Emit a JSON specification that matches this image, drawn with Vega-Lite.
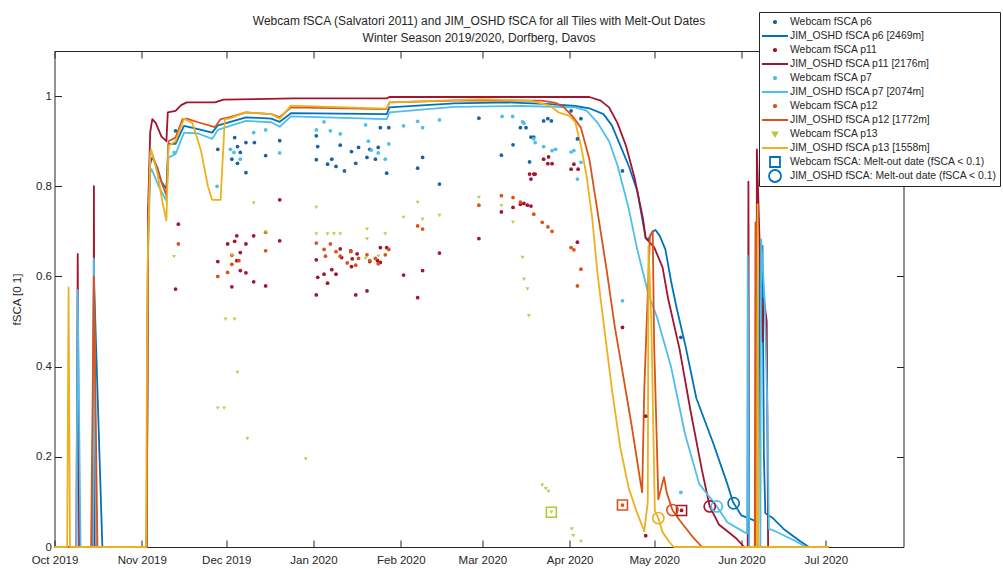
{
  "$schema": "https://vega.github.io/schema/vega-lite/v6.json",
  "width": 849,
  "height": 496,
  "autosize": {"type": "none"},
  "padding": {"left": 54.5, "top": 51, "right": 99.5, "bottom": 22},
  "background": "white",
  "title": {
    "text": ["Webcam fSCA (Salvatori 2011) and JIM_OSHD fSCA for all Tiles with Melt-Out Dates", "Winter Season 2019/2020, Dorfberg, Davos"],
    "font": "Liberation Sans",
    "fontSize": 12,
    "fontWeight": "normal",
    "color": "#262626",
    "anchor": "middle",
    "offset": 9,
    "dy": 42,
    "lineHeight": 17
  },
  "config": {
    "font": "Liberation Sans",
    "view": {"stroke": "#262626", "strokeWidth": 1},
    "axis": {
      "grid": false,
      "domain": false,
      "tickColor": "#262626",
      "tickSize": -7,
      "tickWidth": 1,
      "labelColor": "#262626",
      "labelFont": "Liberation Sans",
      "labelFontSize": 11.5,
      "titleColor": "#262626",
      "titleFont": "Liberation Sans",
      "titleFontWeight": "normal",
      "titleFontSize": 11.5
    }
  },
  "datasets": {
    "jim": [
      {"s": "JIM_OSHD fSCA p6 [2469m]", "t": "2019-10-01", "v": 0},
      {"s": "JIM_OSHD fSCA p6 [2469m]", "t": "2019-10-14T12:00Z", "v": 0},
      {"s": "JIM_OSHD fSCA p6 [2469m]", "t": "2019-10-15", "v": 0.6},
      {"s": "JIM_OSHD fSCA p6 [2469m]", "t": "2019-10-18", "v": 0},
      {"s": "JIM_OSHD fSCA p6 [2469m]", "t": "2019-11-02T18:00Z", "v": 0},
      {"s": "JIM_OSHD fSCA p6 [2469m]", "t": "2019-11-03T06:00Z", "v": 0.7},
      {"s": "JIM_OSHD fSCA p6 [2469m]", "t": "2019-11-04", "v": 0.85},
      {"s": "JIM_OSHD fSCA p6 [2469m]", "t": "2019-11-04T18:00Z", "v": 0.864},
      {"s": "JIM_OSHD fSCA p6 [2469m]", "t": "2019-11-06T12:00Z", "v": 0.842},
      {"s": "JIM_OSHD fSCA p6 [2469m]", "t": "2019-11-08", "v": 0.81},
      {"s": "JIM_OSHD fSCA p6 [2469m]", "t": "2019-11-09T18:00Z", "v": 0.794},
      {"s": "JIM_OSHD fSCA p6 [2469m]", "t": "2019-11-10T12:00Z", "v": 0.894},
      {"s": "JIM_OSHD fSCA p6 [2469m]", "t": "2019-11-13", "v": 0.894},
      {"s": "JIM_OSHD fSCA p6 [2469m]", "t": "2019-11-16", "v": 0.934},
      {"s": "JIM_OSHD fSCA p6 [2469m]", "t": "2019-11-21", "v": 0.927},
      {"s": "JIM_OSHD fSCA p6 [2469m]", "t": "2019-11-26", "v": 0.919},
      {"s": "JIM_OSHD fSCA p6 [2469m]", "t": "2019-11-28", "v": 0.935},
      {"s": "JIM_OSHD fSCA p6 [2469m]", "t": "2019-12-01", "v": 0.94},
      {"s": "JIM_OSHD fSCA p6 [2469m]", "t": "2019-12-08", "v": 0.953},
      {"s": "JIM_OSHD fSCA p6 [2469m]", "t": "2019-12-17", "v": 0.95},
      {"s": "JIM_OSHD fSCA p6 [2469m]", "t": "2019-12-20", "v": 0.943},
      {"s": "JIM_OSHD fSCA p6 [2469m]", "t": "2019-12-24", "v": 0.962},
      {"s": "JIM_OSHD fSCA p6 [2469m]", "t": "2020-01-27", "v": 0.96},
      {"s": "JIM_OSHD fSCA p6 [2469m]", "t": "2020-01-28", "v": 0.975},
      {"s": "JIM_OSHD fSCA p6 [2469m]", "t": "2020-02-20", "v": 0.984},
      {"s": "JIM_OSHD fSCA p6 [2469m]", "t": "2020-03-10", "v": 0.986},
      {"s": "JIM_OSHD fSCA p6 [2469m]", "t": "2020-03-25", "v": 0.982},
      {"s": "JIM_OSHD fSCA p6 [2469m]", "t": "2020-04-03", "v": 0.978},
      {"s": "JIM_OSHD fSCA p6 [2469m]", "t": "2020-04-08", "v": 0.973},
      {"s": "JIM_OSHD fSCA p6 [2469m]", "t": "2020-04-13", "v": 0.96},
      {"s": "JIM_OSHD fSCA p6 [2469m]", "t": "2020-04-16", "v": 0.935},
      {"s": "JIM_OSHD fSCA p6 [2469m]", "t": "2020-04-19", "v": 0.89},
      {"s": "JIM_OSHD fSCA p6 [2469m]", "t": "2020-04-22", "v": 0.845},
      {"s": "JIM_OSHD fSCA p6 [2469m]", "t": "2020-04-25", "v": 0.79},
      {"s": "JIM_OSHD fSCA p6 [2469m]", "t": "2020-04-27", "v": 0.72},
      {"s": "JIM_OSHD fSCA p6 [2469m]", "t": "2020-04-28", "v": 0.685},
      {"s": "JIM_OSHD fSCA p6 [2469m]", "t": "2020-04-29", "v": 0.683},
      {"s": "JIM_OSHD fSCA p6 [2469m]", "t": "2020-04-30T12:00Z", "v": 0.7},
      {"s": "JIM_OSHD fSCA p6 [2469m]", "t": "2020-05-01T12:00Z", "v": 0.703},
      {"s": "JIM_OSHD fSCA p6 [2469m]", "t": "2020-05-03", "v": 0.69},
      {"s": "JIM_OSHD fSCA p6 [2469m]", "t": "2020-05-05", "v": 0.66},
      {"s": "JIM_OSHD fSCA p6 [2469m]", "t": "2020-05-07", "v": 0.59},
      {"s": "JIM_OSHD fSCA p6 [2469m]", "t": "2020-05-09", "v": 0.53},
      {"s": "JIM_OSHD fSCA p6 [2469m]", "t": "2020-05-12", "v": 0.45},
      {"s": "JIM_OSHD fSCA p6 [2469m]", "t": "2020-05-16", "v": 0.33},
      {"s": "JIM_OSHD fSCA p6 [2469m]", "t": "2020-05-22", "v": 0.23},
      {"s": "JIM_OSHD fSCA p6 [2469m]", "t": "2020-05-27", "v": 0.14},
      {"s": "JIM_OSHD fSCA p6 [2469m]", "t": "2020-05-29", "v": 0.1},
      {"s": "JIM_OSHD fSCA p6 [2469m]", "t": "2020-06-01", "v": 0.07},
      {"s": "JIM_OSHD fSCA p6 [2469m]", "t": "2020-06-07", "v": 0.055},
      {"s": "JIM_OSHD fSCA p6 [2469m]", "t": "2020-06-07T12:00Z", "v": 0.68},
      {"s": "JIM_OSHD fSCA p6 [2469m]", "t": "2020-06-08", "v": 0.62},
      {"s": "JIM_OSHD fSCA p6 [2469m]", "t": "2020-06-08T12:00Z", "v": 0.668},
      {"s": "JIM_OSHD fSCA p6 [2469m]", "t": "2020-06-09", "v": 0.2},
      {"s": "JIM_OSHD fSCA p6 [2469m]", "t": "2020-06-09T12:00Z", "v": 0.075},
      {"s": "JIM_OSHD fSCA p6 [2469m]", "t": "2020-06-12", "v": 0.065},
      {"s": "JIM_OSHD fSCA p6 [2469m]", "t": "2020-06-16", "v": 0.04},
      {"s": "JIM_OSHD fSCA p6 [2469m]", "t": "2020-06-22", "v": 0.012},
      {"s": "JIM_OSHD fSCA p6 [2469m]", "t": "2020-06-25", "v": 0},
      {"s": "JIM_OSHD fSCA p6 [2469m]", "t": "2020-07-02", "v": 0},

      {"s": "JIM_OSHD fSCA p11 [2176m]", "t": "2019-10-01", "v": 0},
      {"s": "JIM_OSHD fSCA p11 [2176m]", "t": "2019-10-08T18:00Z", "v": 0},
      {"s": "JIM_OSHD fSCA p11 [2176m]", "t": "2019-10-09T06:00Z", "v": 0.65},
      {"s": "JIM_OSHD fSCA p11 [2176m]", "t": "2019-10-09T18:00Z", "v": 0},
      {"s": "JIM_OSHD fSCA p11 [2176m]", "t": "2019-10-14T18:00Z", "v": 0},
      {"s": "JIM_OSHD fSCA p11 [2176m]", "t": "2019-10-15", "v": 0.8},
      {"s": "JIM_OSHD fSCA p11 [2176m]", "t": "2019-10-15T06:00Z", "v": 0},
      {"s": "JIM_OSHD fSCA p11 [2176m]", "t": "2019-11-02T18:00Z", "v": 0},
      {"s": "JIM_OSHD fSCA p11 [2176m]", "t": "2019-11-03T06:00Z", "v": 0.75},
      {"s": "JIM_OSHD fSCA p11 [2176m]", "t": "2019-11-04", "v": 0.92},
      {"s": "JIM_OSHD fSCA p11 [2176m]", "t": "2019-11-04T18:00Z", "v": 0.949},
      {"s": "JIM_OSHD fSCA p11 [2176m]", "t": "2019-11-06", "v": 0.94},
      {"s": "JIM_OSHD fSCA p11 [2176m]", "t": "2019-11-08", "v": 0.91},
      {"s": "JIM_OSHD fSCA p11 [2176m]", "t": "2019-11-09T18:00Z", "v": 0.9},
      {"s": "JIM_OSHD fSCA p11 [2176m]", "t": "2019-11-10T06:00Z", "v": 0.964},
      {"s": "JIM_OSHD fSCA p11 [2176m]", "t": "2019-11-13", "v": 0.967},
      {"s": "JIM_OSHD fSCA p11 [2176m]", "t": "2019-11-15", "v": 0.98},
      {"s": "JIM_OSHD fSCA p11 [2176m]", "t": "2019-11-17", "v": 0.986},
      {"s": "JIM_OSHD fSCA p11 [2176m]", "t": "2019-11-27", "v": 0.986},
      {"s": "JIM_OSHD fSCA p11 [2176m]", "t": "2019-11-30", "v": 0.992},
      {"s": "JIM_OSHD fSCA p11 [2176m]", "t": "2019-12-25", "v": 0.995},
      {"s": "JIM_OSHD fSCA p11 [2176m]", "t": "2020-01-27", "v": 0.995},
      {"s": "JIM_OSHD fSCA p11 [2176m]", "t": "2020-01-28", "v": 0.998},
      {"s": "JIM_OSHD fSCA p11 [2176m]", "t": "2020-04-08", "v": 0.998},
      {"s": "JIM_OSHD fSCA p11 [2176m]", "t": "2020-04-12", "v": 0.99},
      {"s": "JIM_OSHD fSCA p11 [2176m]", "t": "2020-04-15", "v": 0.975},
      {"s": "JIM_OSHD fSCA p11 [2176m]", "t": "2020-04-18", "v": 0.94},
      {"s": "JIM_OSHD fSCA p11 [2176m]", "t": "2020-04-21", "v": 0.89},
      {"s": "JIM_OSHD fSCA p11 [2176m]", "t": "2020-04-24", "v": 0.82},
      {"s": "JIM_OSHD fSCA p11 [2176m]", "t": "2020-04-27", "v": 0.73},
      {"s": "JIM_OSHD fSCA p11 [2176m]", "t": "2020-04-28", "v": 0.685},
      {"s": "JIM_OSHD fSCA p11 [2176m]", "t": "2020-05-01", "v": 0.665},
      {"s": "JIM_OSHD fSCA p11 [2176m]", "t": "2020-05-04", "v": 0.62},
      {"s": "JIM_OSHD fSCA p11 [2176m]", "t": "2020-05-06", "v": 0.55},
      {"s": "JIM_OSHD fSCA p11 [2176m]", "t": "2020-05-10", "v": 0.44},
      {"s": "JIM_OSHD fSCA p11 [2176m]", "t": "2020-05-14", "v": 0.3},
      {"s": "JIM_OSHD fSCA p11 [2176m]", "t": "2020-05-18", "v": 0.17},
      {"s": "JIM_OSHD fSCA p11 [2176m]", "t": "2020-05-20T18:00Z", "v": 0.09},
      {"s": "JIM_OSHD fSCA p11 [2176m]", "t": "2020-05-24", "v": 0.05},
      {"s": "JIM_OSHD fSCA p11 [2176m]", "t": "2020-05-30", "v": 0.02},
      {"s": "JIM_OSHD fSCA p11 [2176m]", "t": "2020-06-02", "v": 0},
      {"s": "JIM_OSHD fSCA p11 [2176m]", "t": "2020-06-03T06:00Z", "v": 0},
      {"s": "JIM_OSHD fSCA p11 [2176m]", "t": "2020-06-03T12:00Z", "v": 0.81},
      {"s": "JIM_OSHD fSCA p11 [2176m]", "t": "2020-06-03T18:00Z", "v": 0},
      {"s": "JIM_OSHD fSCA p11 [2176m]", "t": "2020-06-06T06:00Z", "v": 0},
      {"s": "JIM_OSHD fSCA p11 [2176m]", "t": "2020-06-06T12:00Z", "v": 0.882},
      {"s": "JIM_OSHD fSCA p11 [2176m]", "t": "2020-06-08T12:00Z", "v": 0.455},
      {"s": "JIM_OSHD fSCA p11 [2176m]", "t": "2020-06-09", "v": 0.55},
      {"s": "JIM_OSHD fSCA p11 [2176m]", "t": "2020-06-10", "v": 0.5},
      {"s": "JIM_OSHD fSCA p11 [2176m]", "t": "2020-06-10T12:00Z", "v": 0},
      {"s": "JIM_OSHD fSCA p11 [2176m]", "t": "2020-07-02", "v": 0},

      {"s": "JIM_OSHD fSCA p7 [2074m]", "t": "2019-10-01", "v": 0},
      {"s": "JIM_OSHD fSCA p7 [2074m]", "t": "2019-10-08T18:00Z", "v": 0},
      {"s": "JIM_OSHD fSCA p7 [2074m]", "t": "2019-10-09T06:00Z", "v": 0.57},
      {"s": "JIM_OSHD fSCA p7 [2074m]", "t": "2019-10-10T06:00Z", "v": 0},
      {"s": "JIM_OSHD fSCA p7 [2074m]", "t": "2019-10-14T18:00Z", "v": 0},
      {"s": "JIM_OSHD fSCA p7 [2074m]", "t": "2019-10-15", "v": 0.64},
      {"s": "JIM_OSHD fSCA p7 [2074m]", "t": "2019-10-15T18:00Z", "v": 0},
      {"s": "JIM_OSHD fSCA p7 [2074m]", "t": "2019-11-02T18:00Z", "v": 0},
      {"s": "JIM_OSHD fSCA p7 [2074m]", "t": "2019-11-03T06:00Z", "v": 0.65},
      {"s": "JIM_OSHD fSCA p7 [2074m]", "t": "2019-11-04", "v": 0.83},
      {"s": "JIM_OSHD fSCA p7 [2074m]", "t": "2019-11-04T12:00Z", "v": 0.838},
      {"s": "JIM_OSHD fSCA p7 [2074m]", "t": "2019-11-07", "v": 0.8},
      {"s": "JIM_OSHD fSCA p7 [2074m]", "t": "2019-11-09T18:00Z", "v": 0.768},
      {"s": "JIM_OSHD fSCA p7 [2074m]", "t": "2019-11-10T12:00Z", "v": 0.864},
      {"s": "JIM_OSHD fSCA p7 [2074m]", "t": "2019-11-13", "v": 0.871},
      {"s": "JIM_OSHD fSCA p7 [2074m]", "t": "2019-11-16", "v": 0.919},
      {"s": "JIM_OSHD fSCA p7 [2074m]", "t": "2019-11-21", "v": 0.917},
      {"s": "JIM_OSHD fSCA p7 [2074m]", "t": "2019-11-26", "v": 0.905},
      {"s": "JIM_OSHD fSCA p7 [2074m]", "t": "2019-11-28", "v": 0.925},
      {"s": "JIM_OSHD fSCA p7 [2074m]", "t": "2019-12-08", "v": 0.945},
      {"s": "JIM_OSHD fSCA p7 [2074m]", "t": "2019-12-17", "v": 0.942},
      {"s": "JIM_OSHD fSCA p7 [2074m]", "t": "2019-12-20", "v": 0.932},
      {"s": "JIM_OSHD fSCA p7 [2074m]", "t": "2019-12-24", "v": 0.955},
      {"s": "JIM_OSHD fSCA p7 [2074m]", "t": "2020-01-27", "v": 0.949},
      {"s": "JIM_OSHD fSCA p7 [2074m]", "t": "2020-01-28", "v": 0.964},
      {"s": "JIM_OSHD fSCA p7 [2074m]", "t": "2020-02-20", "v": 0.976},
      {"s": "JIM_OSHD fSCA p7 [2074m]", "t": "2020-03-15", "v": 0.978},
      {"s": "JIM_OSHD fSCA p7 [2074m]", "t": "2020-04-03", "v": 0.975},
      {"s": "JIM_OSHD fSCA p7 [2074m]", "t": "2020-04-07", "v": 0.968},
      {"s": "JIM_OSHD fSCA p7 [2074m]", "t": "2020-04-11", "v": 0.94},
      {"s": "JIM_OSHD fSCA p7 [2074m]", "t": "2020-04-15", "v": 0.9},
      {"s": "JIM_OSHD fSCA p7 [2074m]", "t": "2020-04-18", "v": 0.846},
      {"s": "JIM_OSHD fSCA p7 [2074m]", "t": "2020-04-22", "v": 0.75},
      {"s": "JIM_OSHD fSCA p7 [2074m]", "t": "2020-04-25", "v": 0.66},
      {"s": "JIM_OSHD fSCA p7 [2074m]", "t": "2020-04-29", "v": 0.56},
      {"s": "JIM_OSHD fSCA p7 [2074m]", "t": "2020-05-02", "v": 0.51},
      {"s": "JIM_OSHD fSCA p7 [2074m]", "t": "2020-05-07", "v": 0.4},
      {"s": "JIM_OSHD fSCA p7 [2074m]", "t": "2020-05-12", "v": 0.25},
      {"s": "JIM_OSHD fSCA p7 [2074m]", "t": "2020-05-17", "v": 0.14},
      {"s": "JIM_OSHD fSCA p7 [2074m]", "t": "2020-05-23T06:00Z", "v": 0.09},
      {"s": "JIM_OSHD fSCA p7 [2074m]", "t": "2020-05-27", "v": 0.055},
      {"s": "JIM_OSHD fSCA p7 [2074m]", "t": "2020-06-02", "v": 0.033},
      {"s": "JIM_OSHD fSCA p7 [2074m]", "t": "2020-06-03", "v": 0.03},
      {"s": "JIM_OSHD fSCA p7 [2074m]", "t": "2020-06-03T06:00Z", "v": 0.646},
      {"s": "JIM_OSHD fSCA p7 [2074m]", "t": "2020-06-03T18:00Z", "v": 0},
      {"s": "JIM_OSHD fSCA p7 [2074m]", "t": "2020-06-07T18:00Z", "v": 0},
      {"s": "JIM_OSHD fSCA p7 [2074m]", "t": "2020-06-08", "v": 0.683},
      {"s": "JIM_OSHD fSCA p7 [2074m]", "t": "2020-06-09T06:00Z", "v": 0.55},
      {"s": "JIM_OSHD fSCA p7 [2074m]", "t": "2020-06-10T06:00Z", "v": 0.3},
      {"s": "JIM_OSHD fSCA p7 [2074m]", "t": "2020-06-10T18:00Z", "v": 0.04},
      {"s": "JIM_OSHD fSCA p7 [2074m]", "t": "2020-06-13", "v": 0.035},
      {"s": "JIM_OSHD fSCA p7 [2074m]", "t": "2020-06-20", "v": 0.014},
      {"s": "JIM_OSHD fSCA p7 [2074m]", "t": "2020-06-24", "v": 0},
      {"s": "JIM_OSHD fSCA p7 [2074m]", "t": "2020-07-02", "v": 0},

      {"s": "JIM_OSHD fSCA p12 [1772m]", "t": "2019-10-01", "v": 0},
      {"s": "JIM_OSHD fSCA p12 [1772m]", "t": "2019-10-14", "v": 0},
      {"s": "JIM_OSHD fSCA p12 [1772m]", "t": "2019-10-15", "v": 0.6},
      {"s": "JIM_OSHD fSCA p12 [1772m]", "t": "2019-10-16T06:00Z", "v": 0},
      {"s": "JIM_OSHD fSCA p12 [1772m]", "t": "2019-11-02T18:00Z", "v": 0},
      {"s": "JIM_OSHD fSCA p12 [1772m]", "t": "2019-11-03T06:00Z", "v": 0.7},
      {"s": "JIM_OSHD fSCA p12 [1772m]", "t": "2019-11-04", "v": 0.875},
      {"s": "JIM_OSHD fSCA p12 [1772m]", "t": "2019-11-04T06:00Z", "v": 0.88},
      {"s": "JIM_OSHD fSCA p12 [1772m]", "t": "2019-11-06T12:00Z", "v": 0.838},
      {"s": "JIM_OSHD fSCA p12 [1772m]", "t": "2019-11-08T12:00Z", "v": 0.8},
      {"s": "JIM_OSHD fSCA p12 [1772m]", "t": "2019-11-09T18:00Z", "v": 0.78},
      {"s": "JIM_OSHD fSCA p12 [1772m]", "t": "2019-11-10T12:00Z", "v": 0.9},
      {"s": "JIM_OSHD fSCA p12 [1772m]", "t": "2019-11-13", "v": 0.908},
      {"s": "JIM_OSHD fSCA p12 [1772m]", "t": "2019-11-15T12:00Z", "v": 0.949},
      {"s": "JIM_OSHD fSCA p12 [1772m]", "t": "2019-11-17", "v": 0.95},
      {"s": "JIM_OSHD fSCA p12 [1772m]", "t": "2019-11-21", "v": 0.942},
      {"s": "JIM_OSHD fSCA p12 [1772m]", "t": "2019-11-27", "v": 0.931},
      {"s": "JIM_OSHD fSCA p12 [1772m]", "t": "2019-11-29", "v": 0.949},
      {"s": "JIM_OSHD fSCA p12 [1772m]", "t": "2019-12-02", "v": 0.953},
      {"s": "JIM_OSHD fSCA p12 [1772m]", "t": "2019-12-08", "v": 0.964},
      {"s": "JIM_OSHD fSCA p12 [1772m]", "t": "2019-12-17", "v": 0.96},
      {"s": "JIM_OSHD fSCA p12 [1772m]", "t": "2019-12-20", "v": 0.953},
      {"s": "JIM_OSHD fSCA p12 [1772m]", "t": "2019-12-24", "v": 0.975},
      {"s": "JIM_OSHD fSCA p12 [1772m]", "t": "2020-01-27", "v": 0.971},
      {"s": "JIM_OSHD fSCA p12 [1772m]", "t": "2020-01-28", "v": 0.986},
      {"s": "JIM_OSHD fSCA p12 [1772m]", "t": "2020-02-20", "v": 0.99},
      {"s": "JIM_OSHD fSCA p12 [1772m]", "t": "2020-03-22", "v": 0.99},
      {"s": "JIM_OSHD fSCA p12 [1772m]", "t": "2020-03-27", "v": 0.985},
      {"s": "JIM_OSHD fSCA p12 [1772m]", "t": "2020-03-30", "v": 0.975},
      {"s": "JIM_OSHD fSCA p12 [1772m]", "t": "2020-04-02", "v": 0.955},
      {"s": "JIM_OSHD fSCA p12 [1772m]", "t": "2020-04-05", "v": 0.93},
      {"s": "JIM_OSHD fSCA p12 [1772m]", "t": "2020-04-08", "v": 0.86},
      {"s": "JIM_OSHD fSCA p12 [1772m]", "t": "2020-04-10", "v": 0.78},
      {"s": "JIM_OSHD fSCA p12 [1772m]", "t": "2020-04-12", "v": 0.7},
      {"s": "JIM_OSHD fSCA p12 [1772m]", "t": "2020-04-14", "v": 0.62},
      {"s": "JIM_OSHD fSCA p12 [1772m]", "t": "2020-04-17", "v": 0.49},
      {"s": "JIM_OSHD fSCA p12 [1772m]", "t": "2020-04-20", "v": 0.38},
      {"s": "JIM_OSHD fSCA p12 [1772m]", "t": "2020-04-23", "v": 0.27},
      {"s": "JIM_OSHD fSCA p12 [1772m]", "t": "2020-04-26", "v": 0.15},
      {"s": "JIM_OSHD fSCA p12 [1772m]", "t": "2020-04-26T18:00Z", "v": 0.121},
      {"s": "JIM_OSHD fSCA p12 [1772m]", "t": "2020-04-27T12:00Z", "v": 0.35},
      {"s": "JIM_OSHD fSCA p12 [1772m]", "t": "2020-04-29T12:00Z", "v": 0.69},
      {"s": "JIM_OSHD fSCA p12 [1772m]", "t": "2020-04-30T12:00Z", "v": 0.7},
      {"s": "JIM_OSHD fSCA p12 [1772m]", "t": "2020-05-01", "v": 0.45},
      {"s": "JIM_OSHD fSCA p12 [1772m]", "t": "2020-05-02T12:00Z", "v": 0.106},
      {"s": "JIM_OSHD fSCA p12 [1772m]", "t": "2020-05-04T12:00Z", "v": 0.155},
      {"s": "JIM_OSHD fSCA p12 [1772m]", "t": "2020-05-05T12:00Z", "v": 0.12},
      {"s": "JIM_OSHD fSCA p12 [1772m]", "t": "2020-05-07T12:00Z", "v": 0.082},
      {"s": "JIM_OSHD fSCA p12 [1772m]", "t": "2020-05-10", "v": 0.06},
      {"s": "JIM_OSHD fSCA p12 [1772m]", "t": "2020-05-15", "v": 0.02},
      {"s": "JIM_OSHD fSCA p12 [1772m]", "t": "2020-05-18", "v": 0},
      {"s": "JIM_OSHD fSCA p12 [1772m]", "t": "2020-06-05T18:00Z", "v": 0},
      {"s": "JIM_OSHD fSCA p12 [1772m]", "t": "2020-06-06", "v": 0.72},
      {"s": "JIM_OSHD fSCA p12 [1772m]", "t": "2020-06-06T06:00Z", "v": 0},
      {"s": "JIM_OSHD fSCA p12 [1772m]", "t": "2020-07-02", "v": 0},

      {"s": "JIM_OSHD fSCA p13 [1558m]", "t": "2019-10-01", "v": 0},
      {"s": "JIM_OSHD fSCA p13 [1558m]", "t": "2019-10-05T12:00Z", "v": 0},
      {"s": "JIM_OSHD fSCA p13 [1558m]", "t": "2019-10-06", "v": 0.576},
      {"s": "JIM_OSHD fSCA p13 [1558m]", "t": "2019-10-06T12:00Z", "v": 0},
      {"s": "JIM_OSHD fSCA p13 [1558m]", "t": "2019-11-02T12:00Z", "v": 0},
      {"s": "JIM_OSHD fSCA p13 [1558m]", "t": "2019-11-03", "v": 0.6},
      {"s": "JIM_OSHD fSCA p13 [1558m]", "t": "2019-11-04", "v": 0.87},
      {"s": "JIM_OSHD fSCA p13 [1558m]", "t": "2019-11-04T06:00Z", "v": 0.882},
      {"s": "JIM_OSHD fSCA p13 [1558m]", "t": "2019-11-06T12:00Z", "v": 0.83},
      {"s": "JIM_OSHD fSCA p13 [1558m]", "t": "2019-11-08T12:00Z", "v": 0.76},
      {"s": "JIM_OSHD fSCA p13 [1558m]", "t": "2019-11-09T18:00Z", "v": 0.724},
      {"s": "JIM_OSHD fSCA p13 [1558m]", "t": "2019-11-10T12:00Z", "v": 0.89},
      {"s": "JIM_OSHD fSCA p13 [1558m]", "t": "2019-11-13", "v": 0.9},
      {"s": "JIM_OSHD fSCA p13 [1558m]", "t": "2019-11-16", "v": 0.95},
      {"s": "JIM_OSHD fSCA p13 [1558m]", "t": "2019-11-19", "v": 0.94},
      {"s": "JIM_OSHD fSCA p13 [1558m]", "t": "2019-11-22", "v": 0.88},
      {"s": "JIM_OSHD fSCA p13 [1558m]", "t": "2019-11-24T12:00Z", "v": 0.8},
      {"s": "JIM_OSHD fSCA p13 [1558m]", "t": "2019-11-26", "v": 0.77},
      {"s": "JIM_OSHD fSCA p13 [1558m]", "t": "2019-11-29", "v": 0.77},
      {"s": "JIM_OSHD fSCA p13 [1558m]", "t": "2019-11-30T12:00Z", "v": 0.949},
      {"s": "JIM_OSHD fSCA p13 [1558m]", "t": "2019-12-02", "v": 0.95},
      {"s": "JIM_OSHD fSCA p13 [1558m]", "t": "2019-12-08", "v": 0.964},
      {"s": "JIM_OSHD fSCA p13 [1558m]", "t": "2019-12-17", "v": 0.96},
      {"s": "JIM_OSHD fSCA p13 [1558m]", "t": "2019-12-20", "v": 0.95},
      {"s": "JIM_OSHD fSCA p13 [1558m]", "t": "2019-12-24", "v": 0.979},
      {"s": "JIM_OSHD fSCA p13 [1558m]", "t": "2020-01-27", "v": 0.972},
      {"s": "JIM_OSHD fSCA p13 [1558m]", "t": "2020-01-28", "v": 0.986},
      {"s": "JIM_OSHD fSCA p13 [1558m]", "t": "2020-03-01", "v": 0.993},
      {"s": "JIM_OSHD fSCA p13 [1558m]", "t": "2020-03-18", "v": 0.99},
      {"s": "JIM_OSHD fSCA p13 [1558m]", "t": "2020-03-25", "v": 0.979},
      {"s": "JIM_OSHD fSCA p13 [1558m]", "t": "2020-03-28", "v": 0.964},
      {"s": "JIM_OSHD fSCA p13 [1558m]", "t": "2020-04-01", "v": 0.956},
      {"s": "JIM_OSHD fSCA p13 [1558m]", "t": "2020-04-03", "v": 0.942},
      {"s": "JIM_OSHD fSCA p13 [1558m]", "t": "2020-04-05", "v": 0.89},
      {"s": "JIM_OSHD fSCA p13 [1558m]", "t": "2020-04-07", "v": 0.823},
      {"s": "JIM_OSHD fSCA p13 [1558m]", "t": "2020-04-09", "v": 0.73},
      {"s": "JIM_OSHD fSCA p13 [1558m]", "t": "2020-04-11", "v": 0.6},
      {"s": "JIM_OSHD fSCA p13 [1558m]", "t": "2020-04-13", "v": 0.5},
      {"s": "JIM_OSHD fSCA p13 [1558m]", "t": "2020-04-16", "v": 0.35},
      {"s": "JIM_OSHD fSCA p13 [1558m]", "t": "2020-04-19", "v": 0.22},
      {"s": "JIM_OSHD fSCA p13 [1558m]", "t": "2020-04-22", "v": 0.13},
      {"s": "JIM_OSHD fSCA p13 [1558m]", "t": "2020-04-25", "v": 0.075},
      {"s": "JIM_OSHD fSCA p13 [1558m]", "t": "2020-04-27T12:00Z", "v": 0.035},
      {"s": "JIM_OSHD fSCA p13 [1558m]", "t": "2020-04-28T18:00Z", "v": 0.1},
      {"s": "JIM_OSHD fSCA p13 [1558m]", "t": "2020-04-29", "v": 0.668},
      {"s": "JIM_OSHD fSCA p13 [1558m]", "t": "2020-04-30", "v": 0.5},
      {"s": "JIM_OSHD fSCA p13 [1558m]", "t": "2020-05-01T06:00Z", "v": 0.08},
      {"s": "JIM_OSHD fSCA p13 [1558m]", "t": "2020-05-02T12:00Z", "v": 0.064},
      {"s": "JIM_OSHD fSCA p13 [1558m]", "t": "2020-05-04", "v": 0.033},
      {"s": "JIM_OSHD fSCA p13 [1558m]", "t": "2020-05-06T12:00Z", "v": 0.01},
      {"s": "JIM_OSHD fSCA p13 [1558m]", "t": "2020-05-08", "v": 0},
      {"s": "JIM_OSHD fSCA p13 [1558m]", "t": "2020-06-06T12:00Z", "v": 0},
      {"s": "JIM_OSHD fSCA p13 [1558m]", "t": "2020-06-06T18:00Z", "v": 0.76},
      {"s": "JIM_OSHD fSCA p13 [1558m]", "t": "2020-06-07", "v": 0},
      {"s": "JIM_OSHD fSCA p13 [1558m]", "t": "2020-07-02", "v": 0}
    ],
    "cam": [
      {"s": "Webcam fSCA p6", "t": "2019-11-13", "v": 0.923},
      {"s": "Webcam fSCA p6", "t": "2019-11-28", "v": 0.882},
      {"s": "Webcam fSCA p6", "t": "2019-12-03", "v": 0.86},
      {"s": "Webcam fSCA p6", "t": "2019-12-04", "v": 0.908},
      {"s": "Webcam fSCA p6", "t": "2019-12-05", "v": 0.888},
      {"s": "Webcam fSCA p6", "t": "2019-12-05", "v": 0.851},
      {"s": "Webcam fSCA p6", "t": "2019-12-06", "v": 0.875},
      {"s": "Webcam fSCA p6", "t": "2019-12-08", "v": 0.897},
      {"s": "Webcam fSCA p6", "t": "2019-12-08", "v": 0.83},
      {"s": "Webcam fSCA p6", "t": "2019-12-11", "v": 0.897},
      {"s": "Webcam fSCA p6", "t": "2019-12-15", "v": 0.868},
      {"s": "Webcam fSCA p6", "t": "2019-12-20", "v": 0.901},
      {"s": "Webcam fSCA p6", "t": "2020-01-02", "v": 0.912},
      {"s": "Webcam fSCA p6", "t": "2020-01-02T12:00Z", "v": 0.888},
      {"s": "Webcam fSCA p6", "t": "2020-01-02", "v": 0.859},
      {"s": "Webcam fSCA p6", "t": "2020-01-06", "v": 0.849},
      {"s": "Webcam fSCA p6", "t": "2020-01-07T12:00Z", "v": 0.86},
      {"s": "Webcam fSCA p6", "t": "2020-01-09", "v": 0.844},
      {"s": "Webcam fSCA p6", "t": "2020-01-10T12:00Z", "v": 0.891},
      {"s": "Webcam fSCA p6", "t": "2020-01-12", "v": 0.834},
      {"s": "Webcam fSCA p6", "t": "2020-01-14T12:00Z", "v": 0.877},
      {"s": "Webcam fSCA p6", "t": "2020-01-16", "v": 0.851},
      {"s": "Webcam fSCA p6", "t": "2020-01-17", "v": 0.886},
      {"s": "Webcam fSCA p6", "t": "2020-01-20", "v": 0.864},
      {"s": "Webcam fSCA p6", "t": "2020-01-21", "v": 0.882},
      {"s": "Webcam fSCA p6", "t": "2020-01-23", "v": 0.86},
      {"s": "Webcam fSCA p6", "t": "2020-01-24", "v": 0.886},
      {"s": "Webcam fSCA p6", "t": "2020-01-24T18:00Z", "v": 0.93},
      {"s": "Webcam fSCA p6", "t": "2020-01-27", "v": 0.829},
      {"s": "Webcam fSCA p6", "t": "2020-01-27T18:00Z", "v": 0.93},
      {"s": "Webcam fSCA p6", "t": "2020-02-07", "v": 0.84},
      {"s": "Webcam fSCA p6", "t": "2020-02-08T18:00Z", "v": 0.864},
      {"s": "Webcam fSCA p6", "t": "2020-02-14T18:00Z", "v": 0.805},
      {"s": "Webcam fSCA p6", "t": "2020-02-28T18:00Z", "v": 0.951},
      {"s": "Webcam fSCA p6", "t": "2020-03-07T18:00Z", "v": 0.869},
      {"s": "Webcam fSCA p6", "t": "2020-03-11T21:00Z", "v": 0.892},
      {"s": "Webcam fSCA p6", "t": "2020-03-14T12:00Z", "v": 0.93},
      {"s": "Webcam fSCA p6", "t": "2020-03-16T12:00Z", "v": 0.93},
      {"s": "Webcam fSCA p6", "t": "2020-03-17T18:00Z", "v": 0.854},
      {"s": "Webcam fSCA p6", "t": "2020-03-18T06:00Z", "v": 0.909},
      {"s": "Webcam fSCA p6", "t": "2020-03-19T06:00Z", "v": 0.909},
      {"s": "Webcam fSCA p6", "t": "2020-03-22T18:00Z", "v": 0.945},
      {"s": "Webcam fSCA p6", "t": "2020-03-24T06:00Z", "v": 0.95},
      {"s": "Webcam fSCA p6", "t": "2020-03-25T12:00Z", "v": 0.945},
      {"s": "Webcam fSCA p6", "t": "2020-04-01T12:00Z", "v": 0.967},
      {"s": "Webcam fSCA p6", "t": "2020-04-03T18:00Z", "v": 0.905},
      {"s": "Webcam fSCA p6", "t": "2020-04-05", "v": 0.95},
      {"s": "Webcam fSCA p6", "t": "2020-04-19T18:00Z", "v": 0.834},
      {"s": "Webcam fSCA p6", "t": "2020-05-10T12:00Z", "v": 0.465},

      {"s": "Webcam fSCA p11", "t": "2019-11-13", "v": 0.572},
      {"s": "Webcam fSCA p11", "t": "2019-11-14", "v": 0.716},
      {"s": "Webcam fSCA p11", "t": "2019-11-28", "v": 0.633},
      {"s": "Webcam fSCA p11", "t": "2019-12-01T12:00Z", "v": 0.672},
      {"s": "Webcam fSCA p11", "t": "2019-12-03", "v": 0.577},
      {"s": "Webcam fSCA p11", "t": "2019-12-04", "v": 0.678},
      {"s": "Webcam fSCA p11", "t": "2019-12-04T18:00Z", "v": 0.69},
      {"s": "Webcam fSCA p11", "t": "2019-12-04T18:00Z", "v": 0.635},
      {"s": "Webcam fSCA p11", "t": "2019-12-06", "v": 0.653},
      {"s": "Webcam fSCA p11", "t": "2019-12-06", "v": 0.613},
      {"s": "Webcam fSCA p11", "t": "2019-12-08", "v": 0.672},
      {"s": "Webcam fSCA p11", "t": "2019-12-08", "v": 0.608},
      {"s": "Webcam fSCA p11", "t": "2019-12-10T18:00Z", "v": 0.69},
      {"s": "Webcam fSCA p11", "t": "2019-12-10T18:00Z", "v": 0.588},
      {"s": "Webcam fSCA p11", "t": "2019-12-15", "v": 0.579},
      {"s": "Webcam fSCA p11", "t": "2019-12-20", "v": 0.77},
      {"s": "Webcam fSCA p11", "t": "2019-12-20", "v": 0.679},
      {"s": "Webcam fSCA p11", "t": "2020-01-02", "v": 0.637},
      {"s": "Webcam fSCA p11", "t": "2020-01-02T12:00Z", "v": 0.598},
      {"s": "Webcam fSCA p11", "t": "2020-01-02", "v": 0.559},
      {"s": "Webcam fSCA p11", "t": "2020-01-04T18:00Z", "v": 0.605},
      {"s": "Webcam fSCA p11", "t": "2020-01-06", "v": 0.585},
      {"s": "Webcam fSCA p11", "t": "2020-01-07T12:00Z", "v": 0.615},
      {"s": "Webcam fSCA p11", "t": "2020-01-09", "v": 0.605},
      {"s": "Webcam fSCA p11", "t": "2020-01-10T12:00Z", "v": 0.661},
      {"s": "Webcam fSCA p11", "t": "2020-01-11", "v": 0.642},
      {"s": "Webcam fSCA p11", "t": "2020-01-14T06:00Z", "v": 0.657},
      {"s": "Webcam fSCA p11", "t": "2020-01-14T18:00Z", "v": 0.639},
      {"s": "Webcam fSCA p11", "t": "2020-01-14T12:00Z", "v": 0.622},
      {"s": "Webcam fSCA p11", "t": "2020-01-16", "v": 0.559},
      {"s": "Webcam fSCA p11", "t": "2020-01-16T12:00Z", "v": 0.65},
      {"s": "Webcam fSCA p11", "t": "2020-01-20", "v": 0.568},
      {"s": "Webcam fSCA p11", "t": "2020-01-21", "v": 0.633},
      {"s": "Webcam fSCA p11", "t": "2020-01-23T18:00Z", "v": 0.635},
      {"s": "Webcam fSCA p11", "t": "2020-01-24T18:00Z", "v": 0.631},
      {"s": "Webcam fSCA p11", "t": "2020-01-24T18:00Z", "v": 0.664},
      {"s": "Webcam fSCA p11", "t": "2020-01-27", "v": 0.664},
      {"s": "Webcam fSCA p11", "t": "2020-02-02", "v": 0.603},
      {"s": "Webcam fSCA p11", "t": "2020-02-07", "v": 0.553},
      {"s": "Webcam fSCA p11", "t": "2020-02-08T18:00Z", "v": 0.613},
      {"s": "Webcam fSCA p11", "t": "2020-02-14T18:00Z", "v": 0.652},
      {"s": "Webcam fSCA p11", "t": "2020-02-28T18:00Z", "v": 0.684},
      {"s": "Webcam fSCA p11", "t": "2020-03-07T18:00Z", "v": 0.743},
      {"s": "Webcam fSCA p11", "t": "2020-03-11T21:00Z", "v": 0.753},
      {"s": "Webcam fSCA p11", "t": "2020-03-14T12:00Z", "v": 0.76},
      {"s": "Webcam fSCA p11", "t": "2020-03-15T18:00Z", "v": 0.762},
      {"s": "Webcam fSCA p11", "t": "2020-03-17", "v": 0.758},
      {"s": "Webcam fSCA p11", "t": "2020-03-18T06:00Z", "v": 0.756},
      {"s": "Webcam fSCA p11", "t": "2020-03-17T18:00Z", "v": 0.827},
      {"s": "Webcam fSCA p11", "t": "2020-03-18T06:00Z", "v": 0.816},
      {"s": "Webcam fSCA p11", "t": "2020-03-19T06:00Z", "v": 0.827},
      {"s": "Webcam fSCA p11", "t": "2020-03-19T18:00Z", "v": 0.827},
      {"s": "Webcam fSCA p11", "t": "2020-03-22T18:00Z", "v": 0.86},
      {"s": "Webcam fSCA p11", "t": "2020-03-24T06:00Z", "v": 0.85},
      {"s": "Webcam fSCA p11", "t": "2020-03-24T12:00Z", "v": 0.865},
      {"s": "Webcam fSCA p11", "t": "2020-03-25T18:00Z", "v": 0.85},
      {"s": "Webcam fSCA p11", "t": "2020-04-01T12:00Z", "v": 0.838},
      {"s": "Webcam fSCA p11", "t": "2020-04-02T12:00Z", "v": 0.849},
      {"s": "Webcam fSCA p11", "t": "2020-04-03T18:00Z", "v": 0.676},
      {"s": "Webcam fSCA p11", "t": "2020-04-04", "v": 0.838},
      {"s": "Webcam fSCA p11", "t": "2020-04-19T18:00Z", "v": 0.487},
      {"s": "Webcam fSCA p11", "t": "2020-04-28", "v": 0.29},
      {"s": "Webcam fSCA p11", "t": "2020-04-28", "v": 0.025},
      {"s": "Webcam fSCA p11", "t": "2020-05-10T18:00Z", "v": 0.081},

      {"s": "Webcam fSCA p7", "t": "2019-11-12T12:00Z", "v": 0.875},
      {"s": "Webcam fSCA p7", "t": "2019-11-27T18:00Z", "v": 0.8},
      {"s": "Webcam fSCA p7", "t": "2019-12-02T12:00Z", "v": 0.882},
      {"s": "Webcam fSCA p7", "t": "2019-12-03T18:00Z", "v": 0.875},
      {"s": "Webcam fSCA p7", "t": "2019-12-06", "v": 0.86},
      {"s": "Webcam fSCA p7", "t": "2019-12-10T18:00Z", "v": 0.919},
      {"s": "Webcam fSCA p7", "t": "2019-12-15", "v": 0.925},
      {"s": "Webcam fSCA p7", "t": "2019-12-20", "v": 0.874},
      {"s": "Webcam fSCA p7", "t": "2020-01-02", "v": 0.925},
      {"s": "Webcam fSCA p7", "t": "2020-01-04T18:00Z", "v": 0.943},
      {"s": "Webcam fSCA p7", "t": "2020-01-07", "v": 0.923},
      {"s": "Webcam fSCA p7", "t": "2020-01-10T12:00Z", "v": 0.916},
      {"s": "Webcam fSCA p7", "t": "2020-01-19T12:00Z", "v": 0.936},
      {"s": "Webcam fSCA p7", "t": "2020-01-20T12:00Z", "v": 0.9},
      {"s": "Webcam fSCA p7", "t": "2020-01-21T12:00Z", "v": 0.88},
      {"s": "Webcam fSCA p7", "t": "2020-01-24", "v": 0.874},
      {"s": "Webcam fSCA p7", "t": "2020-01-26T12:00Z", "v": 0.86},
      {"s": "Webcam fSCA p7", "t": "2020-01-27T18:00Z", "v": 0.894},
      {"s": "Webcam fSCA p7", "t": "2020-02-02", "v": 0.934},
      {"s": "Webcam fSCA p7", "t": "2020-02-07", "v": 0.944},
      {"s": "Webcam fSCA p7", "t": "2020-02-08T18:00Z", "v": 0.93},
      {"s": "Webcam fSCA p7", "t": "2020-02-14T18:00Z", "v": 0.947},
      {"s": "Webcam fSCA p7", "t": "2020-03-08", "v": 0.955},
      {"s": "Webcam fSCA p7", "t": "2020-03-11T18:00Z", "v": 0.955},
      {"s": "Webcam fSCA p7", "t": "2020-03-15T06:00Z", "v": 0.943},
      {"s": "Webcam fSCA p7", "t": "2020-03-15T18:00Z", "v": 0.94},
      {"s": "Webcam fSCA p7", "t": "2020-03-19T06:00Z", "v": 0.905},
      {"s": "Webcam fSCA p7", "t": "2020-03-19T18:00Z", "v": 0.897},
      {"s": "Webcam fSCA p7", "t": "2020-03-22T18:00Z", "v": 0.888},
      {"s": "Webcam fSCA p7", "t": "2020-03-25T18:00Z", "v": 0.879},
      {"s": "Webcam fSCA p7", "t": "2020-03-27", "v": 0.882},
      {"s": "Webcam fSCA p7", "t": "2020-04-01T12:00Z", "v": 0.876},
      {"s": "Webcam fSCA p7", "t": "2020-04-02T12:00Z", "v": 0.879},
      {"s": "Webcam fSCA p7", "t": "2020-04-03T18:00Z", "v": 0.816},
      {"s": "Webcam fSCA p7", "t": "2020-04-05", "v": 0.853},
      {"s": "Webcam fSCA p7", "t": "2020-04-19T18:00Z", "v": 0.546},
      {"s": "Webcam fSCA p7", "t": "2020-05-10T12:00Z", "v": 0.121},

      {"s": "Webcam fSCA p12", "t": "2019-11-14", "v": 0.672},
      {"s": "Webcam fSCA p12", "t": "2019-11-28", "v": 0.6},
      {"s": "Webcam fSCA p12", "t": "2019-12-01T12:00Z", "v": 0.609},
      {"s": "Webcam fSCA p12", "t": "2019-12-03", "v": 0.647},
      {"s": "Webcam fSCA p12", "t": "2019-12-03", "v": 0.627},
      {"s": "Webcam fSCA p12", "t": "2019-12-05T12:00Z", "v": 0.635},
      {"s": "Webcam fSCA p12", "t": "2019-12-15", "v": 0.698},
      {"s": "Webcam fSCA p12", "t": "2019-12-15", "v": 0.657},
      {"s": "Webcam fSCA p12", "t": "2020-01-02", "v": 0.674},
      {"s": "Webcam fSCA p12", "t": "2020-01-04T18:00Z", "v": 0.66},
      {"s": "Webcam fSCA p12", "t": "2020-01-05T06:00Z", "v": 0.645},
      {"s": "Webcam fSCA p12", "t": "2020-01-07", "v": 0.672},
      {"s": "Webcam fSCA p12", "t": "2020-01-09", "v": 0.655},
      {"s": "Webcam fSCA p12", "t": "2020-01-10T12:00Z", "v": 0.645},
      {"s": "Webcam fSCA p12", "t": "2020-01-13", "v": 0.63},
      {"s": "Webcam fSCA p12", "t": "2020-01-14T06:00Z", "v": 0.655},
      {"s": "Webcam fSCA p12", "t": "2020-01-16", "v": 0.625},
      {"s": "Webcam fSCA p12", "t": "2020-01-17", "v": 0.64},
      {"s": "Webcam fSCA p12", "t": "2020-01-20", "v": 0.648},
      {"s": "Webcam fSCA p12", "t": "2020-01-21", "v": 0.635},
      {"s": "Webcam fSCA p12", "t": "2020-01-23", "v": 0.64},
      {"s": "Webcam fSCA p12", "t": "2020-01-24", "v": 0.628},
      {"s": "Webcam fSCA p12", "t": "2020-01-26T12:00Z", "v": 0.648},
      {"s": "Webcam fSCA p12", "t": "2020-01-27T18:00Z", "v": 0.66},
      {"s": "Webcam fSCA p12", "t": "2020-02-07", "v": 0.712},
      {"s": "Webcam fSCA p12", "t": "2020-02-08T18:00Z", "v": 0.705},
      {"s": "Webcam fSCA p12", "t": "2020-02-28T18:00Z", "v": 0.758},
      {"s": "Webcam fSCA p12", "t": "2020-03-07T18:00Z", "v": 0.779},
      {"s": "Webcam fSCA p12", "t": "2020-03-11T21:00Z", "v": 0.775},
      {"s": "Webcam fSCA p12", "t": "2020-03-14T12:00Z", "v": 0.765},
      {"s": "Webcam fSCA p12", "t": "2020-03-19T06:00Z", "v": 0.738},
      {"s": "Webcam fSCA p12", "t": "2020-03-22T06:00Z", "v": 0.72},
      {"s": "Webcam fSCA p12", "t": "2020-03-24T06:00Z", "v": 0.71},
      {"s": "Webcam fSCA p12", "t": "2020-03-25T18:00Z", "v": 0.7},
      {"s": "Webcam fSCA p12", "t": "2020-04-01T12:00Z", "v": 0.664},
      {"s": "Webcam fSCA p12", "t": "2020-04-02T12:00Z", "v": 0.659},
      {"s": "Webcam fSCA p12", "t": "2020-04-03T18:00Z", "v": 0.579},
      {"s": "Webcam fSCA p12", "t": "2020-04-05", "v": 0.616},
      {"s": "Webcam fSCA p12", "t": "2020-04-19T18:00Z", "v": 0.093}
    ],
    "cam13": [
      {"s": "Webcam fSCA p13", "t": "2019-11-12T12:00Z", "v": 0.644},
      {"s": "Webcam fSCA p13", "t": "2019-11-28", "v": 0.308},
      {"s": "Webcam fSCA p13", "t": "2019-11-30T06:00Z", "v": 0.308},
      {"s": "Webcam fSCA p13", "t": "2019-11-30T18:00Z", "v": 0.505},
      {"s": "Webcam fSCA p13", "t": "2019-12-03", "v": 0.647},
      {"s": "Webcam fSCA p13", "t": "2019-12-04", "v": 0.505},
      {"s": "Webcam fSCA p13", "t": "2019-12-05", "v": 0.387},
      {"s": "Webcam fSCA p13", "t": "2019-12-08T12:00Z", "v": 0.24},
      {"s": "Webcam fSCA p13", "t": "2019-12-10T18:00Z", "v": 0.763},
      {"s": "Webcam fSCA p13", "t": "2019-12-15", "v": 0.698},
      {"s": "Webcam fSCA p13", "t": "2019-12-29T06:00Z", "v": 0.195},
      {"s": "Webcam fSCA p13", "t": "2020-01-02", "v": 0.753},
      {"s": "Webcam fSCA p13", "t": "2020-01-02", "v": 0.694},
      {"s": "Webcam fSCA p13", "t": "2020-01-06", "v": 0.694},
      {"s": "Webcam fSCA p13", "t": "2020-01-08T06:00Z", "v": 0.694},
      {"s": "Webcam fSCA p13", "t": "2020-01-10T12:00Z", "v": 0.694},
      {"s": "Webcam fSCA p13", "t": "2020-01-19T12:00Z", "v": 0.64},
      {"s": "Webcam fSCA p13", "t": "2020-01-20", "v": 0.705},
      {"s": "Webcam fSCA p13", "t": "2020-01-20", "v": 0.683},
      {"s": "Webcam fSCA p13", "t": "2020-01-24", "v": 0.645},
      {"s": "Webcam fSCA p13", "t": "2020-01-26T12:00Z", "v": 0.694},
      {"s": "Webcam fSCA p13", "t": "2020-02-02", "v": 0.731},
      {"s": "Webcam fSCA p13", "t": "2020-02-07", "v": 0.764},
      {"s": "Webcam fSCA p13", "t": "2020-02-08T18:00Z", "v": 0.727},
      {"s": "Webcam fSCA p13", "t": "2020-02-14T18:00Z", "v": 0.735},
      {"s": "Webcam fSCA p13", "t": "2020-02-28T18:00Z", "v": 0.775},
      {"s": "Webcam fSCA p13", "t": "2020-03-07T18:00Z", "v": 0.757},
      {"s": "Webcam fSCA p13", "t": "2020-03-11T21:00Z", "v": 0.72},
      {"s": "Webcam fSCA p13", "t": "2020-03-15T06:00Z", "v": 0.642},
      {"s": "Webcam fSCA p13", "t": "2020-03-15T18:00Z", "v": 0.594},
      {"s": "Webcam fSCA p13", "t": "2020-03-17", "v": 0.572},
      {"s": "Webcam fSCA p13", "t": "2020-03-17T12:00Z", "v": 0.513},
      {"s": "Webcam fSCA p13", "t": "2020-03-22T06:00Z", "v": 0.137},
      {"s": "Webcam fSCA p13", "t": "2020-03-23T12:00Z", "v": 0.129},
      {"s": "Webcam fSCA p13", "t": "2020-03-24T12:00Z", "v": 0.123},
      {"s": "Webcam fSCA p13", "t": "2020-03-25T12:00Z", "v": 0.077},
      {"s": "Webcam fSCA p13", "t": "2020-04-01T18:00Z", "v": 0.04},
      {"s": "Webcam fSCA p13", "t": "2020-04-02T06:00Z", "v": 0.025},
      {"s": "Webcam fSCA p13", "t": "2020-04-05", "v": 0.012}
    ],
    "meltCam": [
      {"s": "Webcam fSCA p13", "t": "2020-03-25T12:00Z", "v": 0.077},
      {"s": "Webcam fSCA p12", "t": "2020-04-19T18:00Z", "v": 0.093},
      {"s": "Webcam fSCA p11", "t": "2020-05-10T18:00Z", "v": 0.081}
    ],
    "meltJim": [
      {"s": "JIM_OSHD fSCA p13 [1558m]", "t": "2020-05-02T12:00Z", "v": 0.064},
      {"s": "JIM_OSHD fSCA p12 [1772m]", "t": "2020-05-07T12:00Z", "v": 0.082},
      {"s": "JIM_OSHD fSCA p11 [2176m]", "t": "2020-05-20T18:00Z", "v": 0.09},
      {"s": "JIM_OSHD fSCA p7 [2074m]", "t": "2020-05-23T06:00Z", "v": 0.09},
      {"s": "JIM_OSHD fSCA p6 [2469m]", "t": "2020-05-29T06:00Z", "v": 0.097}
    ]
  },
  "layer": [
    {
      "data": {"name": "jim"},
      "mark": {"type": "line", "strokeWidth": 1.8, "strokeJoin": "round"},
      "encoding": {
        "x": {
          "field": "t",
          "type": "temporal",
          "scale": {"domain": [1569888000000, 1595944800000]},
          "axis": {
            "orient": "bottom",
            "title": null,
            "values": [1569888000000, 1572566400000, 1575158400000, 1577836800000, 1580515200000, 1583020800000, 1585699200000, 1588291200000, 1590969600000, 1593561600000],
            "labelExpr": "utcFormat(datum.value, '%b %Y')",
            "labelPadding": 14,
            "labelFlush": false,
            "labelOverlap": false
          }
        },
        "y": {
          "field": "v",
          "type": "quantitative",
          "scale": {"domain": [0, 1.1], "nice": false},
          "axis": {
            "orient": "left",
            "values": [0, 0.2, 0.4, 0.6, 0.8, 1],
            "format": "~g",
            "labelPadding": 10,
            "title": "fSCA [0 1]",
            "titleX": -37,
            "titleY": 248,
            "titleAngle": -90,
            "titleAlign": "center",
            "titleBaseline": "middle"
          }
        },
        "color": {
          "field": "s",
          "type": "nominal",
          "scale": {
            "domain": [
              "Webcam fSCA p6", "JIM_OSHD fSCA p6 [2469m]",
              "Webcam fSCA p11", "JIM_OSHD fSCA p11 [2176m]",
              "Webcam fSCA p7", "JIM_OSHD fSCA p7 [2074m]",
              "Webcam fSCA p12", "JIM_OSHD fSCA p12 [1772m]",
              "Webcam fSCA p13", "JIM_OSHD fSCA p13 [1558m]",
              "Webcam fSCA: Melt-out date (fSCA < 0.1)", "JIM_OSHD fSCA: Melt-out date (fSCA < 0.1)"
            ],
            "range": [
              "#1A62A6", "#0072BD",
              "#A2142F", "#A2142F",
              "#4DBEEE", "#4DBEEE",
              "#D95319", "#D95319",
              "#B9C63A", "#EDB120",
              "#0072BD", "#0072BD"
            ]
          },
          "legend": {
            "orient": "none",
            "legendX": 704.5,
            "legendY": -39,
            "title": null,
            "direction": "vertical",
            "labelFont": "Liberation Sans",
            "labelFontSize": 10.4,
            "labelColor": "#262626",
            "labelLimit": 320,
            "symbolSize": 100,
            "symbolStrokeWidth": 1.8,
            "symbolOffset": 7,
            "labelOffset": 9,
            "clipHeight": 14,
            "rowPadding": 0,
            "padding": 3,
            "strokeColor": "#262626",
            "fillColor": "white",
            "encode": {
              "symbols": {
                "update": {
                  "shape": {"signal": "indexof(datum.value,'JIM_OSHD fSCA p')==0 ? 'M-2.6,0H2.6' : indexof(datum.value,'Webcam fSCA: Melt')==0 ? 'M-1,-1H1V1H-1Z' : indexof(datum.value,'Melt-out')>=0 ? 'M-1.2,0A1.2,1.2,0,1,1,1.2,0A1.2,1.2,0,1,1,-1.2,0Z' : datum.value=='Webcam fSCA p13' ? 'M-0.45,-0.3L0.45,-0.3L0,0.45Z' : 'M-0.24,0A0.24,0.24,0,1,1,0.24,0A0.24,0.24,0,1,1,-0.24,0Z'"},
                  "fillOpacity": {"signal": "(indexof(datum.value,'JIM_OSHD fSCA p')==0 || indexof(datum.value,'Melt-out')>=0) ? 0 : 1"},
                  "opacity": {"value": 1}
                }
              }
            }
          }
        }
      }
    },
    {
      "data": {"name": "cam"},
      "mark": {"type": "point", "filled": true, "opacity": 1, "size": 14},
      "encoding": {
        "x": {
          "field": "t",
          "type": "temporal",
          "axis": {
            "orient": "top",
            "title": null,
            "labels": false,
            "values": [1569888000000, 1572566400000, 1575158400000, 1577836800000, 1580515200000, 1583020800000, 1585699200000, 1588291200000, 1590969600000, 1593561600000]
          }
        },
        "y": {
          "field": "v",
          "type": "quantitative",
          "axis": {"orient": "right", "title": null, "labels": false, "values": [0, 0.2, 0.4, 0.6, 0.8, 1]}
        },
        "color": {"field": "s", "type": "nominal"}
      }
    },
    {
      "data": {"name": "cam13"},
      "mark": {"type": "point", "shape": "triangle-down", "filled": true, "opacity": 0.9, "size": 16},
      "encoding": {
        "x": {"field": "t", "type": "temporal", "axis": null},
        "y": {"field": "v", "type": "quantitative", "axis": null},
        "color": {"field": "s", "type": "nominal"}
      }
    },
    {
      "data": {"name": "meltCam"},
      "mark": {"type": "point", "shape": "square", "filled": false, "size": 100, "strokeWidth": 1.6, "opacity": 1},
      "encoding": {
        "x": {"field": "t", "type": "temporal", "axis": null},
        "y": {"field": "v", "type": "quantitative", "axis": null},
        "color": {"field": "s", "type": "nominal"}
      }
    },
    {
      "data": {"name": "meltJim"},
      "mark": {"type": "point", "shape": "circle", "filled": false, "size": 125, "strokeWidth": 1.6, "opacity": 1},
      "encoding": {
        "x": {"field": "t", "type": "temporal", "axis": null},
        "y": {"field": "v", "type": "quantitative", "axis": null},
        "color": {"field": "s", "type": "nominal"}
      }
    }
  ]
}
